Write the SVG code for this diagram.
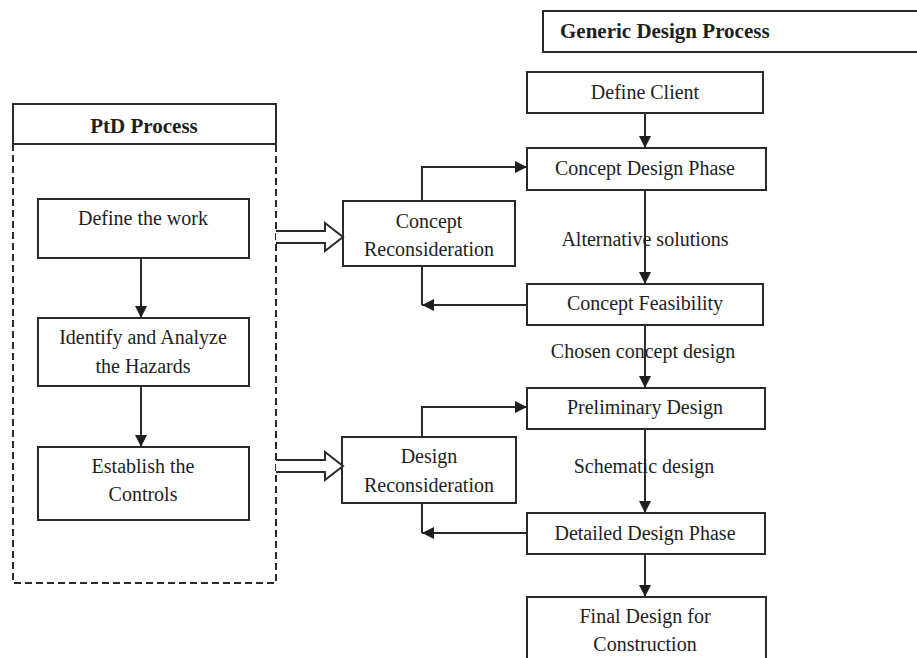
<svg xmlns="http://www.w3.org/2000/svg" width="917" height="658" viewBox="0 0 917 658">
<defs>
<style>
.box{fill:#fff;stroke:#2a2a2a;stroke-width:2}
.t{font-family:"Liberation Serif","Times New Roman",serif;font-size:20px;fill:#1e1e1e;text-anchor:middle}
.h{font-family:"Liberation Serif","Times New Roman",serif;font-size:21px;font-weight:bold;fill:#1e1e1e}
.ln{fill:none;stroke:#2a2a2a;stroke-width:2}
.dash{fill:none;stroke:#2a2a2a;stroke-width:2;stroke-dasharray:7 4}
.hollow{fill:#fff;stroke:#2a2a2a;stroke-width:2;stroke-linejoin:miter}
</style>
<marker id="arr" markerUnits="userSpaceOnUse" markerWidth="12" markerHeight="12" refX="12" refY="6" orient="auto">
<path d="M0,0 L12,6 L0,12 z" fill="#1e1e1e"/>
</marker>
</defs>
<rect width="917" height="658" fill="#fff"/>

<g id="ptd-container">
<path class="dash" d="M13,144 L13,583 L276,583 L276,144"/>
<rect class="box" x="13" y="104" width="263" height="40"/>
<text class="h" x="144" y="133" text-anchor="middle">PtD Process</text>
</g>

<g id="generic-header">
<rect class="box" x="543" y="11" width="380" height="41"/>
<text class="h" x="560" y="38">Generic Design Process</text>
</g>

<g id="define-work">
<rect class="box" x="38" y="199" width="211" height="59"/>
<text class="t" x="143" y="225">Define the work</text>
</g>
<g id="identify-hazards">
<rect class="box" x="38" y="318" width="211" height="68"/>
<text class="t" x="143" y="344">Identify and Analyze</text>
<text class="t" x="143" y="373">the Hazards</text>
</g>
<g id="establish-controls">
<rect class="box" x="38" y="447" width="211" height="73"/>
<text class="t" x="143" y="473">Establish the</text>
<text class="t" x="143" y="501">Controls</text>
</g>

<g id="concept-recon">
<rect class="box" x="343" y="201" width="172" height="65"/>
<text class="t" x="429" y="228">Concept</text>
<text class="t" x="429" y="256">Reconsideration</text>
</g>
<g id="design-recon">
<rect class="box" x="342" y="437" width="174" height="66"/>
<text class="t" x="429" y="463">Design</text>
<text class="t" x="429" y="492">Reconsideration</text>
</g>

<g id="define-client">
<rect class="box" x="527" y="72" width="236" height="41"/>
<text class="t" x="645" y="99">Define Client</text>
</g>
<g id="concept-design-phase">
<rect class="box" x="527" y="148" width="239" height="42"/>
<text class="t" x="645" y="175">Concept Design Phase</text>
</g>
<g id="concept-feasibility">
<rect class="box" x="527" y="284" width="236" height="41"/>
<text class="t" x="645" y="310">Concept Feasibility</text>
</g>
<g id="preliminary-design">
<rect class="box" x="527" y="388" width="238" height="41"/>
<text class="t" x="645" y="414">Preliminary Design</text>
</g>
<g id="detailed-design">
<rect class="box" x="527" y="513" width="238" height="41"/>
<text class="t" x="645" y="540">Detailed Design Phase</text>
</g>
<g id="final-design">
<rect class="box" x="527" y="597" width="239" height="75"/>
<text class="t" x="645" y="623">Final Design for</text>
<text class="t" x="645" y="651">Construction</text>
</g>

<g id="connectors">
<line class="ln" x1="141" y1="258" x2="141" y2="318" marker-end="url(#arr)"/>
<line class="ln" x1="141" y1="386" x2="141" y2="447" marker-end="url(#arr)"/>
<path class="hollow" d="M276,231 L325,231 L325,223 L343,237 L325,251 L325,243 L276,243"/>
<path class="hollow" d="M276,460 L325,460 L325,452 L343,466 L325,480 L325,472 L276,472"/>
<line class="ln" x1="645" y1="113" x2="645" y2="148" marker-end="url(#arr)"/>
<line class="ln" x1="645" y1="190" x2="645" y2="284" marker-end="url(#arr)"/>
<line class="ln" x1="645" y1="325" x2="645" y2="388" marker-end="url(#arr)"/>
<line class="ln" x1="645" y1="429" x2="645" y2="513" marker-end="url(#arr)"/>
<line class="ln" x1="645" y1="554" x2="645" y2="597" marker-end="url(#arr)"/>
<polyline class="ln" points="422,201 422,167 527,167" marker-end="url(#arr)"/>
<line class="ln" x1="422" y1="266" x2="422" y2="305"/>
<line class="ln" x1="527" y1="305" x2="422" y2="305" marker-end="url(#arr)"/>
<polyline class="ln" points="422,437 422,407 527,407" marker-end="url(#arr)"/>
<line class="ln" x1="422" y1="503" x2="422" y2="533"/>
<line class="ln" x1="527" y1="533" x2="422" y2="533" marker-end="url(#arr)"/>
</g>

<g id="edge-labels">
<text class="t" x="645" y="246">Alternative solutions</text>
<text class="t" x="643" y="358">Chosen concept design</text>
<text class="t" x="644" y="473">Schematic design</text>
</g>
</svg>
